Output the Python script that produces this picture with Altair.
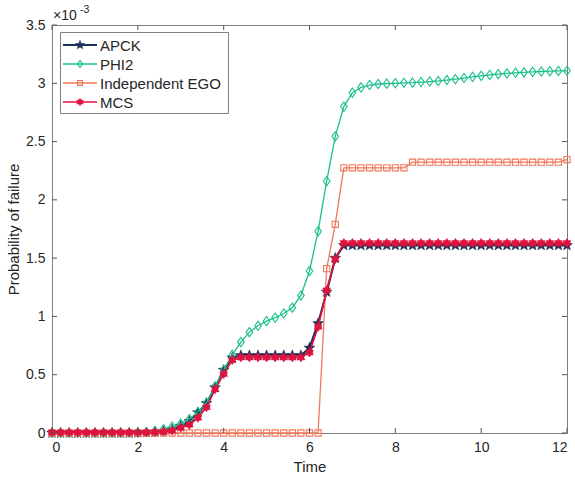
import math
import altair as alt
import pandas as pd

# ---------------- data (probability of failure in units of 1e-3) ----------------
time = [0.0, 0.2, 0.4, 0.6, 0.8, 1.0, 1.2, 1.4, 1.6, 1.8,
        2.0, 2.2, 2.4, 2.6, 2.8, 3.0, 3.2, 3.4, 3.6, 3.8,
        4.0, 4.2, 4.4, 4.6, 4.8, 5.0, 5.2, 5.4, 5.6, 5.8,
        6.0, 6.2, 6.4, 6.6, 6.8, 7.0, 7.2, 7.4, 7.6, 7.8,
        8.0, 8.2, 8.4, 8.6, 8.8, 9.0, 9.2, 9.4, 9.6, 9.8,
        10.0, 10.2, 10.4, 10.6, 10.8, 11.0, 11.2, 11.4, 11.6, 11.8,
        12.0]

apck = [0.0, 0.0, 0.0, 0.0, 0.0, 0.0, 0.0, 0.0, 0.0, 0.0,
        0.002, 0.004, 0.008, 0.015, 0.03, 0.06, 0.10, 0.175, 0.255, 0.39,
        0.54, 0.645, 0.665, 0.665, 0.665, 0.665, 0.665, 0.665, 0.665, 0.665,
        0.73, 0.94, 1.21, 1.50, 1.61, 1.61, 1.61, 1.61, 1.61, 1.61,
        1.61, 1.61, 1.61, 1.61, 1.61, 1.61, 1.61, 1.61, 1.61, 1.61,
        1.61, 1.61, 1.61, 1.61, 1.61, 1.61, 1.61, 1.61, 1.61, 1.61,
        1.61]

phi2 = [0.0, 0.0, 0.0, 0.0, 0.0, 0.0, 0.0, 0.0, 0.0, 0.0,
        0.003, 0.008, 0.018, 0.033, 0.055, 0.08, 0.12, 0.18, 0.26, 0.40,
        0.54, 0.67, 0.78, 0.865, 0.92, 0.96, 0.99, 1.025, 1.075, 1.18,
        1.39, 1.73, 2.16, 2.545, 2.80, 2.92, 2.965, 2.985, 2.994, 2.997,
        3.0, 3.004, 3.006, 3.01, 3.015, 3.02, 3.028, 3.036, 3.045, 3.055,
        3.064, 3.072, 3.079, 3.085, 3.09, 3.094, 3.098, 3.101, 3.104, 3.106,
        3.107]

ego = [0.0, 0.0, 0.0, 0.0, 0.0, 0.0, 0.0, 0.0, 0.0, 0.0,
       0.0, 0.0, 0.0, 0.0, 0.0, 0.0, 0.0, 0.0, 0.0, 0.0,
       0.0, 0.0, 0.0, 0.0, 0.0, 0.0, 0.0, 0.0, 0.0, 0.0,
       0.0, 0.0, 1.41, 1.79, 2.275, 2.275, 2.275, 2.275, 2.275, 2.275,
       2.275, 2.275, 2.323, 2.323, 2.323, 2.323, 2.323, 2.323, 2.323, 2.323,
       2.323, 2.323, 2.323, 2.323, 2.323, 2.323, 2.323, 2.323, 2.323, 2.323,
       2.346]

mcs = [0.005, 0.005, 0.005, 0.005, 0.005, 0.005, 0.005, 0.005, 0.005, 0.005,
       0.005, 0.006, 0.008, 0.012, 0.02, 0.045, 0.07, 0.13, 0.22, 0.375,
       0.505, 0.625, 0.648, 0.648, 0.648, 0.648, 0.648, 0.648, 0.648, 0.648,
       0.69, 0.91, 1.225, 1.49, 1.63, 1.63, 1.63, 1.63, 1.63, 1.63,
       1.63, 1.63, 1.63, 1.63, 1.63, 1.63, 1.63, 1.63, 1.63, 1.63,
       1.63, 1.63, 1.63, 1.63, 1.63, 1.63, 1.63, 1.63, 1.63, 1.63,
       1.63]

series_names = ["APCK", "PHI2", "Independent EGO", "MCS"]
x_ticks = [0, 2, 4, 6, 8, 10, 12]
y_ticks = [0, 0.5, 1, 1.5, 2, 2.5, 3, 3.5]

# ---------------- styling ----------------
W, H = 515, 408
FONT = "Liberation Sans"
TXT = "#262626"
FRAME = "#808080"


def star_path(n, r_in):
    pts = []
    for k in range(2 * n):
        r = 1.0 if k % 2 == 0 else r_in
        a = -math.pi / 2 + k * math.pi / n
        pts.append(f"{r * math.cos(a):.3f},{r * math.sin(a):.3f}")
    return "M" + "L".join(pts) + "Z"


STAR = star_path(5, 0.42)
HEXA = star_path(6, 0.62)
DIAM = "M0,-1L0.72,0L0,1L-0.72,0Z"

styles = {
    "APCK": dict(color="#1f2f57", shape=STAR, size=125, filled=True, lw=2.2),
    "PHI2": dict(color="#1cbf8e", shape=DIAM, size=85, filled=False, lw=1.3),
    "Independent EGO": dict(color="#f0785a", shape="square", size=38, filled=False, lw=1.3),
    "MCS": dict(color="#e0123e", shape=HEXA, size=80, filled=True, lw=1.6),
}
values = {"APCK": apck, "PHI2": phi2, "Independent EGO": ego, "MCS": mcs}

XS = alt.Scale(domain=[0, 12], nice=False, zero=False)
YS = alt.Scale(domain=[0, 3.5], nice=False)
X_AX = alt.Axis(values=x_ticks, tickSize=0, grid=False, domain=False, labelFont=FONT,
                labelFontSize=14, labelColor=TXT, labelPadding=7, title="Time",
                titleFont=FONT, titleFontSize=15, titleFontWeight="normal", titleColor=TXT,
                titleY=26, titleBaseline="top")
Y_AX = alt.Axis(values=y_ticks, format="~g", tickSize=0, grid=False, domain=False, labelFont=FONT,
                labelFontSize=14, labelColor=TXT, labelPadding=7, title="Probability of failure",
                titleFont=FONT, titleFontSize=15, titleFontWeight="normal", titleColor=TXT,
                titleX=-31, titleY=H / 2)


def X(field="t"):
    return alt.X(f"{field}:Q", scale=XS, axis=X_AX)


def Y(field="p"):
    return alt.Y(f"{field}:Q", scale=YS, axis=Y_AX)


layers = []
for name in series_names:
    st = styles[name]
    d = pd.DataFrame({"t": time, "p": values[name]})
    layers.append(alt.Chart(d).mark_line(color=st["color"], strokeWidth=st["lw"]).encode(x=X(), y=Y()))
    if st["filled"]:
        pm = alt.Chart(d).mark_point(shape=st["shape"], size=st["size"], filled=True, fill=st["color"],
                                     stroke=st["color"], strokeWidth=0.6, opacity=1)
    else:
        pm = alt.Chart(d).mark_point(shape=st["shape"], size=st["size"], filled=False, stroke=st["color"],
                                     strokeWidth=1.1, opacity=1)
    layers.append(pm.encode(x=X(), y=Y()))

# inward ticks (MATLAB style) on all four sides
xt = pd.DataFrame({"t": x_ticks})
yt = pd.DataFrame({"p": y_ticks})
tick_c = "#555555"
layers.append(alt.Chart(xt).mark_rule(color=tick_c, strokeWidth=1).encode(x=X(), y=alt.value(H), y2=alt.value(H - 5)))
layers.append(alt.Chart(xt).mark_rule(color=tick_c, strokeWidth=1).encode(x=X(), y=alt.value(0), y2=alt.value(5)))
layers.append(alt.Chart(yt).mark_rule(color=tick_c, strokeWidth=1).encode(y=Y(), x=alt.value(0), x2=alt.value(5)))
layers.append(alt.Chart(yt).mark_rule(color=tick_c, strokeWidth=1).encode(y=Y(), x=alt.value(W), x2=alt.value(W - 5)))

# exponent label
one = pd.DataFrame({"a": [0]})
layers.append(alt.Chart(one).mark_text(text="×10", font=FONT, fontSize=14, color=TXT, align="left",
                                       baseline="alphabetic").encode(x=alt.value(1), y=alt.value(-5)))
layers.append(alt.Chart(one).mark_text(text="-3", font=FONT, fontSize=10.5, color=TXT, align="left",
                                       baseline="alphabetic").encode(x=alt.value(28), y=alt.value(-12)))

# legend box
layers.append(alt.Chart(one).mark_rect(fill="white", stroke=FRAME, strokeWidth=1).encode(
    x=alt.value(8.5), x2=alt.value(176.5), y=alt.value(7.5), y2=alt.value(88.5)))
for i, name in enumerate(series_names):
    st = styles[name]
    ly = 20 + 19 * i
    layers.append(alt.Chart(one).mark_rule(color=st["color"], strokeWidth=st["lw"]).encode(
        x=alt.value(11), x2=alt.value(45), y=alt.value(ly)))
    if st["filled"]:
        pm = alt.Chart(one).mark_point(shape=st["shape"], size=st["size"] * 0.7, filled=True, fill=st["color"],
                                       stroke=st["color"], strokeWidth=0.6, opacity=1)
    else:
        pm = alt.Chart(one).mark_point(shape=st["shape"], size=st["size"] * 0.6, filled=False,
                                       stroke=st["color"], strokeWidth=1.1, opacity=1)
    layers.append(pm.encode(x=alt.value(28), y=alt.value(ly)))
    layers.append(alt.Chart(one).mark_text(text=name, font=FONT, fontSize=15, color=TXT, align="left",
                                           baseline="middle").encode(x=alt.value(48), y=alt.value(ly + 0.5)))

chart = alt.layer(*layers).properties(
    width=W, height=H,
    autosize=alt.AutoSizeParams(type="none"),
    padding={"left": 52, "top": 25, "right": 8, "bottom": 46},
    background="white",
).configure_view(stroke=FRAME, strokeWidth=1)

chart.save("out.html", embed_options={"renderer": "svg", "actions": False})
